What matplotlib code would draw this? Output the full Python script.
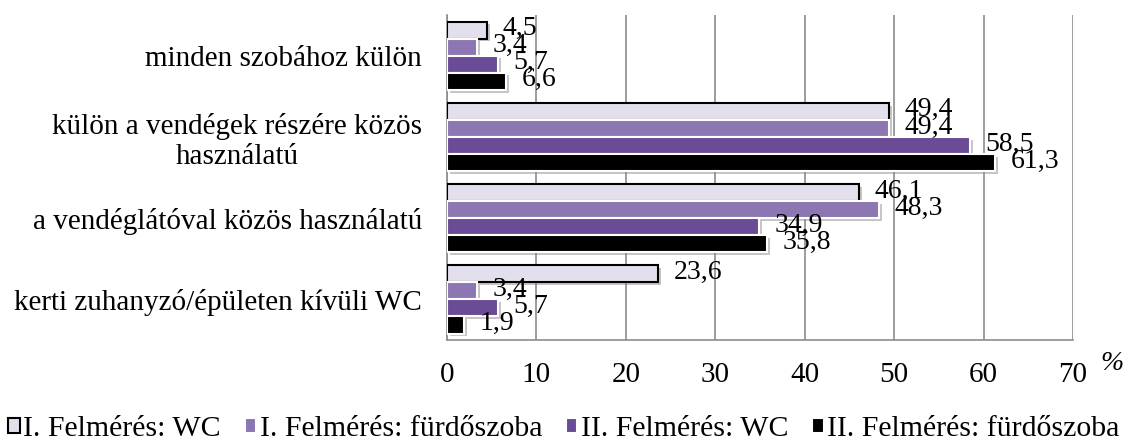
import matplotlib.pyplot as plt
import matplotlib.patheffects as pe
import numpy as np

categories = ["minden szobához külön",
              "külön a vendégek részére közös\nhasználatú",
              "a vendéglátóval közös használatú",
              "kerti zuhanyzó/épületen kívüli WC"]
series_names = ["I. Felmérés: WC", "I. Felmérés: fürdőszoba",
                "II. Felmérés: WC", "II. Felmérés: fürdőszoba"]
wc_1 = [4.5, 49.4, 46.1, 23.6]
bath_1 = [3.4, 49.4, 48.3, 3.4]
wc_2 = [5.7, 58.5, 34.9, 5.7]
bath_2 = [6.6, 61.3, 35.8, 1.9]
x_ticks = [0, 10, 20, 30, 40, 50, 60, 70]

plt.rcParams["font.family"] = ["Liberation Serif", "DejaVu Serif"]

colors = ["#E4DFEC", "#8C77B2", "#6A4C96", "#000000"]
edges = ["#000000", "#FFFFFF", "#FFFFFF", "#FFFFFF"]

fig = plt.figure(figsize=(11.28, 4.43), dpi=100)
ax = fig.add_axes([447 / 1128, 1 - 340 / 443, 626 / 1128, 325 / 443])

y = np.arange(len(categories))
h = 0.21
all_bars = []
for i, (vals, name) in enumerate(zip([wc_1, bath_1, wc_2, bath_2], series_names)):
    pos = y - 1.5 * h + i * h
    bars = ax.barh(pos, vals, h, color=colors[i], edgecolor=edges[i], linewidth=1.5,
                   label=name, zorder=3)
    all_bars.append(bars)
    for p, v in zip(pos, vals):
        ax.annotate(f"{v:.1f}".replace(".", ","), (v, p), xytext=(11, 1),
                    textcoords="offset points", ha="left", va="center",
                    fontsize=20, zorder=5)

ax.set_xlim(0, 70)
ax.set_ylim(len(categories) - 0.5, -0.5)
ax.set_xticks(x_ticks)
ax.set_yticks(y)
ax.set_yticklabels(categories, fontsize=21, ha="right", multialignment="center")
ax.tick_params(axis="y", length=0, pad=18)
ax.tick_params(axis="x", length=0, pad=16, labelsize=21)
ax.xaxis.grid(True, color="#8C8C8C", linewidth=1.2, zorder=0)
ax.set_axisbelow(True)
for s in ["top", "right"]:
    ax.spines[s].set_visible(False)
for s in ["left", "bottom"]:
    ax.spines[s].set_color("#8C8C8C")
    ax.spines[s].set_linewidth(1.2)

fig.text(1112 / 1128, 1 - 363 / 443, "%", fontsize=20, style="italic", ha="center", va="center")

fig.legend(loc="center", bbox_to_anchor=(564 / 1128, 1 - 429 / 443), ncol=4, frameon=False,
           fontsize=21.5, handlelength=0.38, handleheight=0.38, handletextpad=0.12,
           columnspacing=0.8)

shadow = [pe.SimplePatchShadow(offset=(2, -2), shadow_rgbFace="#808080", alpha=0.45), pe.Normal()]
for bars in all_bars:
    for b in bars:
        b.set_path_effects(shadow)

fig.savefig("out.png", dpi=100)
